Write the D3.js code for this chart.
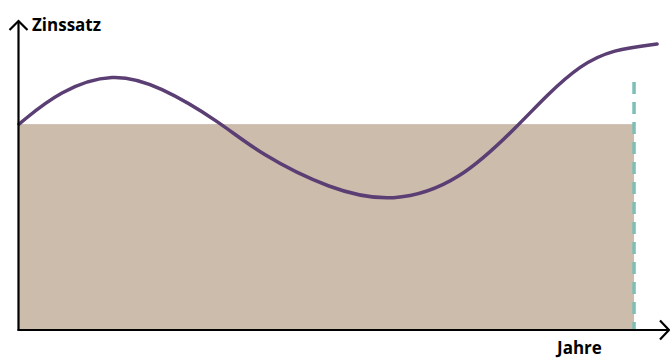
<!DOCTYPE html>
<html>
<head>
<meta charset="utf-8">
<script src="https://cdn.jsdelivr.net/npm/d3@7"></script>
<style>
  html, body { margin: 0; padding: 0; background: #fff; }
  svg { display: block; }
</style>
</head>
<body>
<div id="chart"></div>
<script>
// curve of the interest rate (x: time 0..100, y: rate 0..100)
const curveX = [0, 6.4, 14.7, 22, 31.4, 37.7, 48.6, 58.4, 68.9, 78.3, 82.5, 87.7, 92.8, 99.7];
const curveY = [68.3, 79.5, 85.6, 81, 69, 58.2, 46.5, 41.8, 49, 68.5, 78, 88, 93.2, 95];
// fixed rate block and the end of term marker
const fixedRate = [68.3];
const fixedEnd = [96.1];
const markerTop = [82.3];
const axisLabels = ["Zinssatz", "Jahre"];

const width = 670, height = 358;
const x = d3.scaleLinear().domain([0, 100]).range([19, 659]);
const y = d3.scaleLinear().domain([0, 100]).range([329, 29]);

const svg = d3.select('#chart').append('svg')
    .attr('width', width)
    .attr('height', height);

// fixed rate area
svg.append('rect')
    .attr('x', x(0))
    .attr('y', y(fixedRate[0]))
    .attr('width', x(fixedEnd[0]) - x(0))
    .attr('height', y(0) - y(fixedRate[0]))
    .attr('fill', '#cbbcac');

// dashed marker
svg.append('line')
    .attr('x1', x(fixedEnd[0])).attr('x2', x(fixedEnd[0]))
    .attr('y1', y(markerTop[0])).attr('y2', y(0) + 1)
    .attr('stroke', '#7dbfb8')
    .attr('stroke-width', 3.5)
    .attr('stroke-dasharray', '12,8');

// variable rate curve
const pts = curveX.map((d, i) => [d, curveY[i]]);
svg.append('path')
    .datum(pts)
    .attr('fill', 'none')
    .attr('stroke', '#5b3e73')
    .attr('stroke-width', 3.5)
    .attr('stroke-linecap', 'round')
    .attr('d', d3.line()
        .x(d => x(d[0]))
        .y(d => y(d[1]))
        .curve(d3.curveBasis));

// axes
const axis = svg.append('g')
    .attr('stroke', '#000')
    .attr('stroke-width', 2.2)
    .attr('fill', 'none');

axis.append('line')
    .attr('x1', 18.5).attr('x2', 18.5)
    .attr('y1', y(0) + 1.5).attr('y2', 22);
axis.append('polyline')
    .attr('points', '9.5,30 18.5,21 27.5,30');

axis.append('line')
    .attr('x1', 17.5).attr('x2', 668)
    .attr('y1', y(0) + 1).attr('y2', y(0) + 1);
axis.append('polyline')
    .attr('points', '660,320.5 669,330 660,339.5');

svg.append('text')
    .attr('x', 32).attr('y', 31)
    .attr('font-family', 'Open Sans, sans-serif')
    .attr('font-weight', 'bold')
    .attr('font-size', 17)
    .text(axisLabels[0]);

svg.append('text')
    .attr('x', 557).attr('y', 354)
    .attr('font-family', 'Open Sans, sans-serif')
    .attr('font-weight', 'bold')
    .attr('font-size', 17)
    .text(axisLabels[1]);
</script>
</body>
</html>
